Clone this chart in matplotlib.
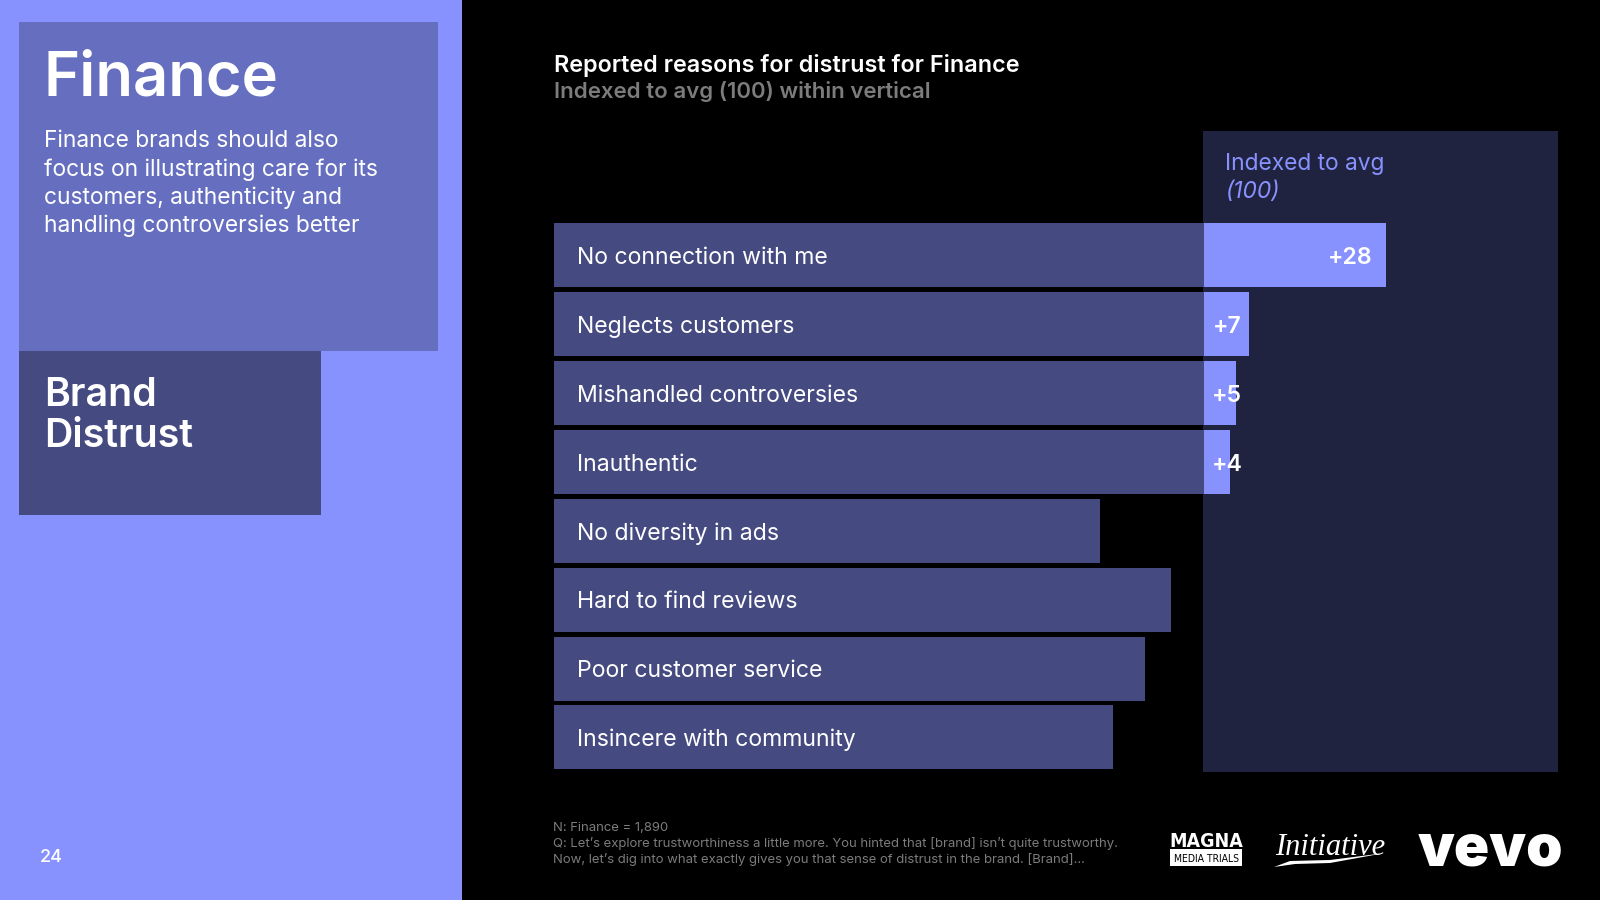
import matplotlib
matplotlib.use("Agg")
import matplotlib.pyplot as plt
from matplotlib.patches import Polygon, Rectangle

# Datos
razones = [
    "No connection with me",
    "Neglects customers",
    "Mishandled controversies",
    "Inauthentic",
    "No diversity in ads",
    "Hard to find reviews",
    "Poor customer service",
    "Insincere with community",
]
indice = [128, 107, 105, 104, 84, 95, 91, 86]
etiquetas = ["+28", "+7", "+5", "+4", "", "", "", ""]
promedio = 100

LILA = "#8892FF"
BARRA = "#454A80"
CAJA = "#666FBF"
PANEL = "#20233F"
GRIS = "#7C7C7C"

plt.rcParams["font.family"] = ["Inter", "DejaVu Sans"]

fig = plt.figure(figsize=(16, 9), dpi=100, facecolor="black")

# Fondo en coordenadas de pixel
fondo = fig.add_axes([0, 0, 1, 1])
fondo.set_xlim(0, 1600)
fondo.set_ylim(900, 0)
fondo.axis("off")


def caja(x0, y0, x1, y1, color):
    fondo.add_patch(Rectangle((x0, y0), x1 - x0, y1 - y0, color=color, lw=0))


caja(0, 0, 462, 900, LILA)
caja(19, 22, 438, 351, CAJA)
caja(19, 351, 321, 515, BARRA)
caja(1203, 131, 1558, 772, PANEL)

fondo.text(44, 95, "Finance", color="white", fontsize=44.3, weight="semibold")
parrafo = [
    "Finance brands should also",
    "focus on illustrating care for its",
    "customers, authenticity and",
    "handling controversies better",
]
for y, linea in zip([147, 176, 204, 232], parrafo):
    fondo.text(44, y, linea, color="white", fontsize=16.4)
fondo.text(44, 406, "Brand", color="white", fontsize=28.3, weight="semibold")
fondo.text(44, 447, "Distrust", color="white", fontsize=28.3, weight="semibold")
fondo.text(40, 862, "24", color="white", fontsize=13, weight="medium")

fondo.text(554, 72, "Reported reasons for distrust for Finance", color="white",
           fontsize=16.8, weight="semibold")
fondo.text(554, 98, "Indexed to avg (100) within vertical", color=GRIS,
           fontsize=16, weight="semibold")
fondo.text(1225, 170, "Indexed to avg", color=LILA, fontsize=16.4)
fondo.text(1225, 198, "(100)", color=LILA, fontsize=16.4, style="italic")

nota = [
    "N: Finance = 1,890",
    "Q: Let\u2019s explore trustworthiness a little more. You hinted that [brand] isn\u2019t quite trustworthy.",
    "Now, let\u2019s dig into what exactly gives you that sense of distrust in the brand. [Brand]\u2026",
]
for y, linea in zip([831, 847, 863], nota):
    fondo.text(553, y, linea, color=GRIS, fontsize=9.43)

# Logos aproximados con texto
fondo.text(1206.5, 847, "MAGNA", color="white", fontsize=14, weight="bold", ha="center",
           family="DejaVu Sans", stretch="condensed")
caja(1170, 849, 1242, 866, "white")
fondo.text(1206, 862, "MEDIA TRIALS", color="black", fontsize=7.5, ha="center",
           family="DejaVu Sans", stretch="condensed")
fondo.text(1330, 855, "Initiative", color="white", fontsize=22, style="italic",
           ha="center", family="Liberation Serif")
fondo.add_patch(Polygon([(1274, 867), (1290, 861), (1330, 860), (1385, 853),
                         (1330, 863), (1295, 864)], color="white", lw=0))
fondo.text(1490, 865, "vevo", color="white", fontsize=42, weight="black", ha="center")

# Barras: el eje va de 0 a 100 en 650 pixeles
ax = fig.add_axes([553.6 / 1600, 1 - 771.85 / 900, 1004.4 / 1600, 550.9 / 900])
ax.patch.set_alpha(0)
ax.axis("off")
ax.set_xlim(0, 1004.4 / 6.5)
posiciones = list(range(len(razones)))
ax.set_ylim(7.5, -0.5)

ax.barh(posiciones, [min(v, promedio) for v in indice], height=0.93, color=BARRA)
extra = [max(v - promedio, 0) for v in indice]
ax.barh(posiciones, extra, left=promedio, height=0.93, color=LILA)

for i, razon in enumerate(razones):
    ax.annotate(razon, (0, i), xytext=(17, -6.3), textcoords="offset points", color="white",
                fontsize=16.6)
    if etiquetas[i]:
        # Las etiquetas pequenas sobresalen de la barra, como en el original
        if extra[i] > 10:
            ax.annotate(etiquetas[i], (promedio + extra[i] - 2, i), xytext=(0, -6.3),
                        textcoords="offset points", color="white", fontsize=16.6,
                        weight="semibold", ha="right")
        else:
            ax.annotate(etiquetas[i], (promedio + 3.6, i), xytext=(0, -6.3),
                        textcoords="offset points", color="white", fontsize=16.6,
                        weight="semibold", ha="center")

fig.savefig("out.png", dpi=100, facecolor="black")
